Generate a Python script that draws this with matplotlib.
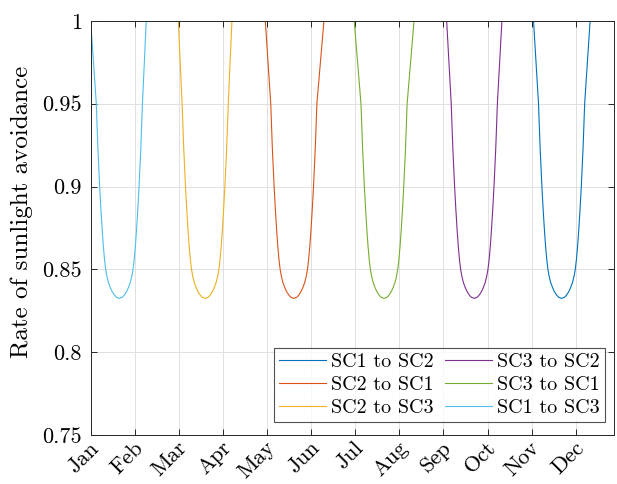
import numpy as np
import matplotlib
matplotlib.use("Agg")
import matplotlib.pyplot as plt
import matplotlib.transforms as mtransforms

plt.rcParams['font.family'] = 'serif'
plt.rcParams['font.serif'] = ['cmr10', 'DejaVu Serif']
plt.rcParams['axes.formatter.use_mathtext'] = True

# shape of a dip: avoidance rate vs. half-width in days about the minimum
dip_levels = [0.8325, 0.8332, 0.8341, 0.8353, 0.8368, 0.8387, 0.8420, 0.8460, 0.8500,
              0.8560, 0.8640, 0.8740, 0.8870, 0.9000, 0.9230, 0.9500]
dip_half_width = [0.0, 2.0, 3.0, 4.0, 5.0, 6.0, 7.4, 8.5, 9.3,
                  10.1, 10.9, 11.7, 12.6, 13.4, 14.6, 15.7]

# per transfer: day of year (0 = 1 Jan) where the rate leaves 1, reaches its minimum, returns to 1
names = ['SC1 to SC2', 'SC2 to SC1', 'SC2 to SC3', 'SC3 to SC2', 'SC3 to SC1', 'SC1 to SC3']
dip_start = [301.3, 118.8, 59.6, 242.2, 179.3, 0.0]
dip_min_day = [320.4, 138.2, 77.9, 261.0, 199.6, 19.5]
dip_end = [339.8, 158.7, 96.1, 279.8, 220.0, 37.8]
colors = ['#0072BD', '#D95319', '#EDB120', '#7E2F8E', '#77AC30', '#4DBEEE']

months = ['Jan', 'Feb', 'Mar', 'Apr', 'May', 'Jun', 'Jul', 'Aug', 'Sep', 'Oct', 'Nov', 'Dec']
month_days = [0, 30, 60, 90, 120, 150, 180, 210, 240, 270, 300, 330]
day_end = 356

fig = plt.figure(figsize=(6.17, 4.84), dpi=100)
ax = fig.add_axes([0.147, 0.101, 0.848, 0.856])

hw = np.array(dip_half_width)
lv = np.array(dip_levels)
for i in range(len(names)):
    c = dip_min_day[i]
    x = np.concatenate([[0.0, dip_start[i]], c - hw[::-1], c + hw[1:], [dip_end[i], day_end]])
    y = np.concatenate([[1.0, 1.0], lv[::-1], lv[1:], [1.0, 1.0]])
    ax.plot(x, y, color=colors[i], lw=0.8, label=names[i])

ax.set_xlim(0, day_end)
ax.set_ylim(0.75, 1.0)
ax.set_yticks([0.75, 0.8, 0.85, 0.9, 0.95, 1.0])
ax.set_yticklabels(['0.75', '0.8', '0.85', '0.9', '0.95', '1'])
ax.set_xticks(month_days)
ax.set_xticklabels(months, rotation=45, ha='right', va='center', rotation_mode='anchor')

ax.grid(True, color='#e0e0e0', lw=0.7)
ax.set_axisbelow(True)
ax.tick_params(direction='in', length=4, width=0.7, colors='#262626', labelsize=16,
               top=True, right=True)
ax.tick_params(axis='y', pad=6.5)
for sp in ax.spines.values():
    sp.set_color('#262626')
    sp.set_linewidth(0.7)
for lab in ax.get_xticklabels() + ax.get_yticklabels():
    lab.set_color('black')

# nudge the rotated month labels (after tick_params, which resets label transforms)
shift = mtransforms.ScaledTranslation(0.05, -0.05, fig.dpi_scale_trans)
for lab in ax.get_xticklabels():
    lab.set_transform(lab.get_transform() + shift)

ax.set_ylabel('Rate of sunlight avoidance', fontsize=18)
ax.yaxis.set_label_coords(-0.110, 0.538)

leg = ax.legend(ncol=2, loc='lower right', fontsize=14.5, frameon=True, fancybox=False,
                edgecolor='#262626', handlelength=2.35, columnspacing=0.55,
                handletextpad=0.25, borderpad=0.25, labelspacing=0.25, borderaxespad=0,
                bbox_to_anchor=(0.983, 0.031))
leg.get_frame().set_linewidth(0.8)

fig.savefig('out.png', dpi=100)
